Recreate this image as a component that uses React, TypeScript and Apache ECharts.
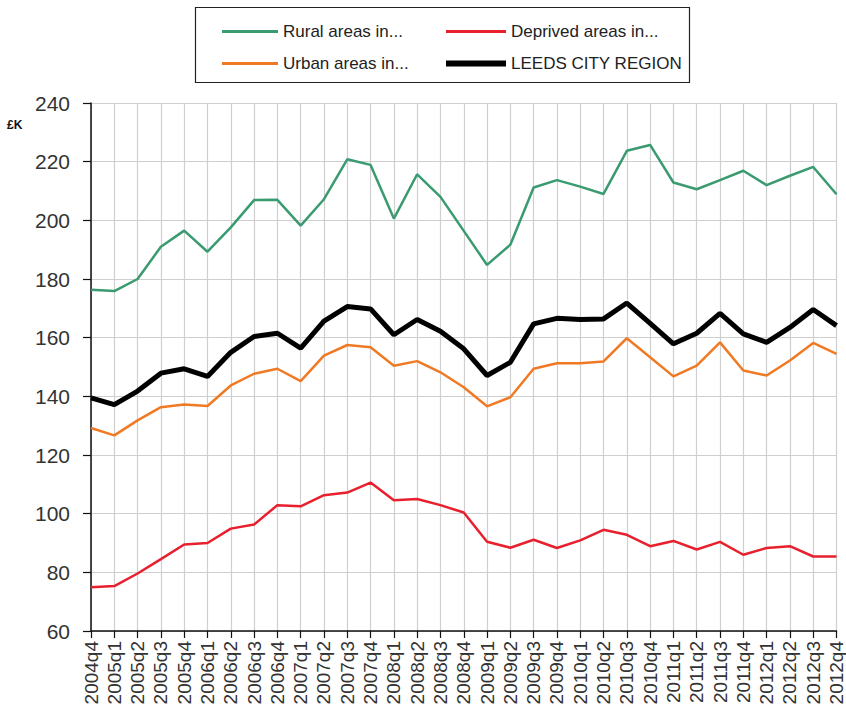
import React, { useEffect, useRef } from "react";
import * as echarts from "echarts";

const categories = [
  "2004q4", "2005q1", "2005q2", "2005q3", "2005q4", "2006q1", "2006q2", "2006q3", "2006q4",
  "2007q1", "2007q2", "2007q3", "2007q4", "2008q1", "2008q2", "2008q3", "2008q4",
  "2009q1", "2009q2", "2009q3", "2009q4", "2010q1", "2010q2", "2010q3", "2010q4",
  "2011q1", "2011q2", "2011q3", "2011q4", "2012q1", "2012q2", "2012q3", "2012q4",
];

const rural = [
  176.3, 175.9, 180, 191, 196.5, 189.3, 197.6, 206.9, 207, 198.2, 207.2, 220.8, 218.9,
  200.6, 215.7, 208, 196.4, 184.8, 191.7, 211.2, 213.7, 211.5, 209, 223.7, 225.7,
  212.9, 210.6, 213.7, 216.9, 212, 215.2, 218.2, 208.9,
];

const deprived = [
  74.9, 75.3, 79.6, 84.5, 89.5, 90, 94.9, 96.3, 102.9, 102.5, 106.3, 107.2, 110.6,
  104.6, 105, 102.9, 100.4, 90.4, 88.4, 91.1, 88.3, 90.9, 94.5, 92.8, 88.9,
  90.7, 87.8, 90.4, 86, 88.3, 88.9, 85.4, 85.4,
];

const urban = [
  129.2, 126.7, 131.8, 136.3, 137.2, 136.7, 143.7, 147.7, 149.4, 145.2, 153.9, 157.5, 156.7,
  150.4, 152, 148.2, 143.1, 136.6, 139.7, 149.4, 151.3, 151.3, 151.9, 159.8, 153.3,
  146.8, 150.5, 158.4, 148.8, 147.1, 152.2, 158.2, 154.5,
];

const leeds = [
  139.5, 137.2, 141.8, 147.9, 149.4, 146.8, 155, 160.4, 161.5, 156.4, 165.6, 170.6, 169.8,
  161, 166.2, 162.2, 156.2, 147.1, 151.6, 164.7, 166.6, 166.2, 166.4, 171.8, 164.9,
  157.9, 161.5, 168.3, 161.3, 158.4, 163.5, 169.6, 164.1,
];

const yTicks = { min: 60, max: 240, interval: 20 };

const FONT = "'Liberation Sans', Arial, sans-serif";

export default function App() {
  const ref = useRef<HTMLDivElement>(null);

  useEffect(() => {
    if (!ref.current) return;
    const chart = echarts.init(ref.current, null, { renderer: "svg" });
    const legendText = { fontFamily: FONT, fontSize: 17, color: "#222", lineHeight: 17 };
    const thin = "path://M0,0 L56,0 L56,3 L0,3 Z";
    const thick = "path://M0,0 L60,0 L60,6 L0,6 Z";
    chart.setOption({
      animation: false,
      backgroundColor: "#ffffff",
      grid: { left: 91, right: 8, top: 103, bottom: 85, containLabel: false },
      graphic: [
        {
          type: "rect",
          shape: { x: 195.5, y: 7.5, width: 494, height: 75 },
          style: { fill: "none", stroke: "#222", lineWidth: 1.2 },
          z: 1,
        },
        {
          type: "text",
          x: 7,
          y: 119,
          style: { text: "£K", font: "bold 12px 'Liberation Sans', Arial, sans-serif", fill: "#111" },
        },
      ],
      legend: [
        {
          left: 217,
          top: 18,
          orient: "vertical",
          itemWidth: 56,
          itemHeight: 17,
          itemGap: 15,
          symbolKeepAspect: true,
          data: [
            { name: "Rural areas in...", icon: thin },
            { name: "Urban areas in...", icon: thin },
          ],
          textStyle: legendText,
        },
        {
          left: 441,
          top: 18,
          orient: "vertical",
          itemWidth: 60,
          itemHeight: 17,
          itemGap: 15,
          symbolKeepAspect: true,
          data: [
            { name: "Deprived areas in...", icon: thin },
            { name: "LEEDS CITY REGION", icon: thick },
          ],
          textStyle: legendText,
        },
      ],
      xAxis: {
        type: "category",
        data: categories,
        boundaryGap: false,
        axisLine: { lineStyle: { color: "#111", width: 1.5 } },
        axisTick: { show: true, length: 7, lineStyle: { color: "#111", width: 1.2 } },
        axisLabel: {
          rotate: 90,
          interval: 0,
          margin: 10,
          fontFamily: FONT,
          fontSize: 19,
          color: "#333",
        },
        splitLine: { show: true, lineStyle: { color: "#cfcfcf", width: 1.2 } },
      },
      yAxis: {
        type: "value",
        min: yTicks.min,
        max: yTicks.max,
        interval: yTicks.interval,
        axisLine: { show: true, lineStyle: { color: "#111", width: 1.5 } },
        axisTick: { show: true, length: 8, lineStyle: { color: "#111", width: 1.2 } },
        axisLabel: {
          margin: 21,
          fontFamily: FONT,
          fontSize: 21,
          color: "#333",
        },
        splitLine: { show: true, lineStyle: { color: "#cfcfcf", width: 1.2 } },
      },
      series: [
        {
          name: "Rural areas in...",
          type: "line",
          data: rural,
          symbol: "none",
          lineStyle: { color: "#3a9a70", width: 2.5 },
          itemStyle: { color: "#3a9a70" },
          z: 3,
        },
        {
          name: "Deprived areas in...",
          type: "line",
          data: deprived,
          symbol: "none",
          lineStyle: { color: "#e8202e", width: 2.5 },
          itemStyle: { color: "#e8202e" },
          z: 3,
        },
        {
          name: "Urban areas in...",
          type: "line",
          data: urban,
          symbol: "none",
          lineStyle: { color: "#f07a24", width: 2.5 },
          itemStyle: { color: "#f07a24" },
          z: 3,
        },
        {
          name: "LEEDS CITY REGION",
          type: "line",
          data: leeds,
          symbol: "none",
          lineStyle: { color: "#000000", width: 5 },
          itemStyle: { color: "#000000" },
          z: 4,
        },
      ],
    });
    return () => chart.dispose();
  }, []);

  return (
    <div
      ref={ref}
      style={{ position: "fixed", left: 0, top: 0, width: 846, height: 716, background: "#fff" }}
    />
  );
}
